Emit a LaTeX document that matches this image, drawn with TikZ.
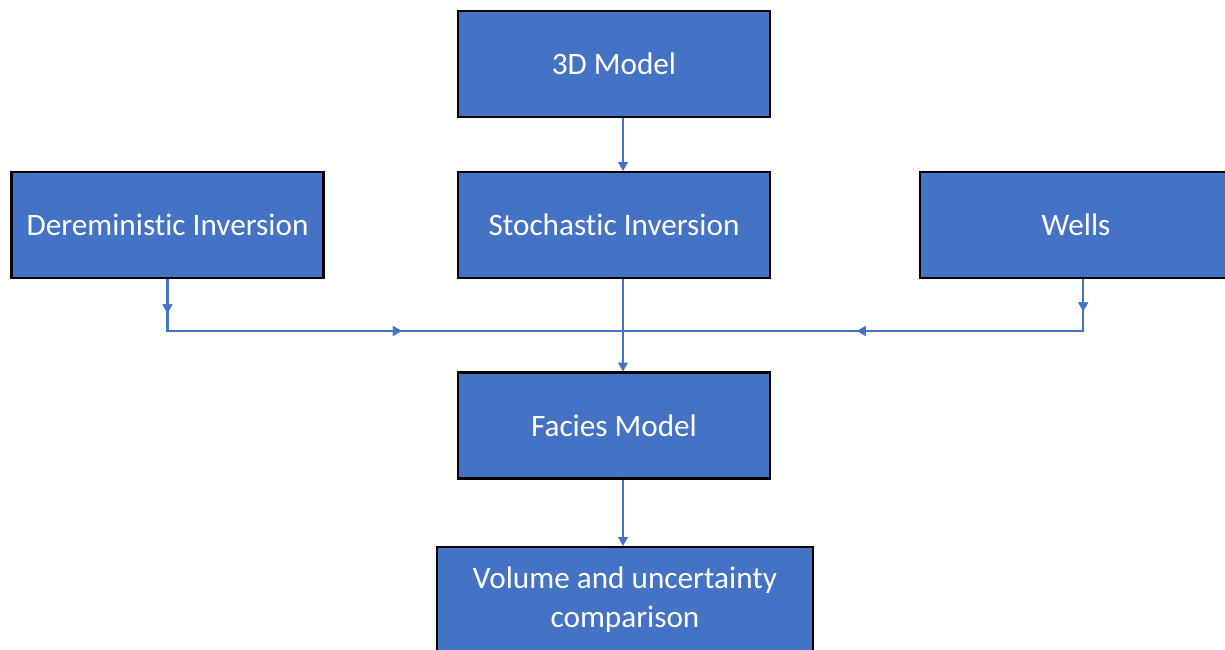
\documentclass[tikz,border=0pt]{standalone}
\usepackage{fontspec}
\setmainfont{Carlito}[Ligatures=NoCommon]
\usetikzlibrary{arrows.meta,shadows,decorations.markings}
\definecolor{boxblue}{HTML}{4472C4}
\begin{document}
\begin{tikzpicture}[x=0.025cm, y=-0.025cm,
		box/.style={draw=black, line width=1.5pt, fill=boxblue, text=white,
			minimum width=7.8cm, minimum height=2.65cm, inner sep=0pt,
			font=\fontsize{22.2}{27.5}\selectfont, align=center,
			drop shadow={shadow xshift=0.8pt, shadow yshift=-0.8pt, fill=black!45, opacity=1}},
		conn/.style={draw=boxblue, line width=1.5pt},
		arr/.style={conn, -{Triangle[width=0.24cm, length=0.22cm]}},
		tip/.style={postaction={decorate}, decoration={markings,
			mark=at position #1 with {\arrow{Triangle[width=0.24cm, length=0.22cm]}}}}]
		\useasboundingbox (0, 0) rectangle (1225, 650);
		\clip (0, 0) rectangle (1225, 650);
		\node[box] (top) at (614, 64) {3D Model};
		\node[box] (det) at (167.5, 225) {Dereministic Inversion};
		\node[box] (sto) at (614, 225) {Stochastic Inversion};
		\node[box] (wel) at (1076, 225) {Wells};
		\node[box] (fac) at (614, 425.5) {Facies Model};
		\node[box, minimum width=9.4cm] (vol) at (625, 600) {Volume and uncertainty\\comparison};
		\coordinate (join) at (623, 331);
                \draw[arr] (top.south -| join) -- (sto.north -| join);
                \draw[arr] (sto.south -| join) -- (fac.north -| join);
                \draw[arr] (fac.south -| join) -- (vol.north -| join);
                \draw[conn, tip=0.85cm, tip=7.15cm] (det.south) |- (join);
                \draw[conn, tip=0.8cm, tip=6.95cm] ([xshift=0.18cm]wel.south) |- (join);
		\end{tikzpicture}
\end{document}
